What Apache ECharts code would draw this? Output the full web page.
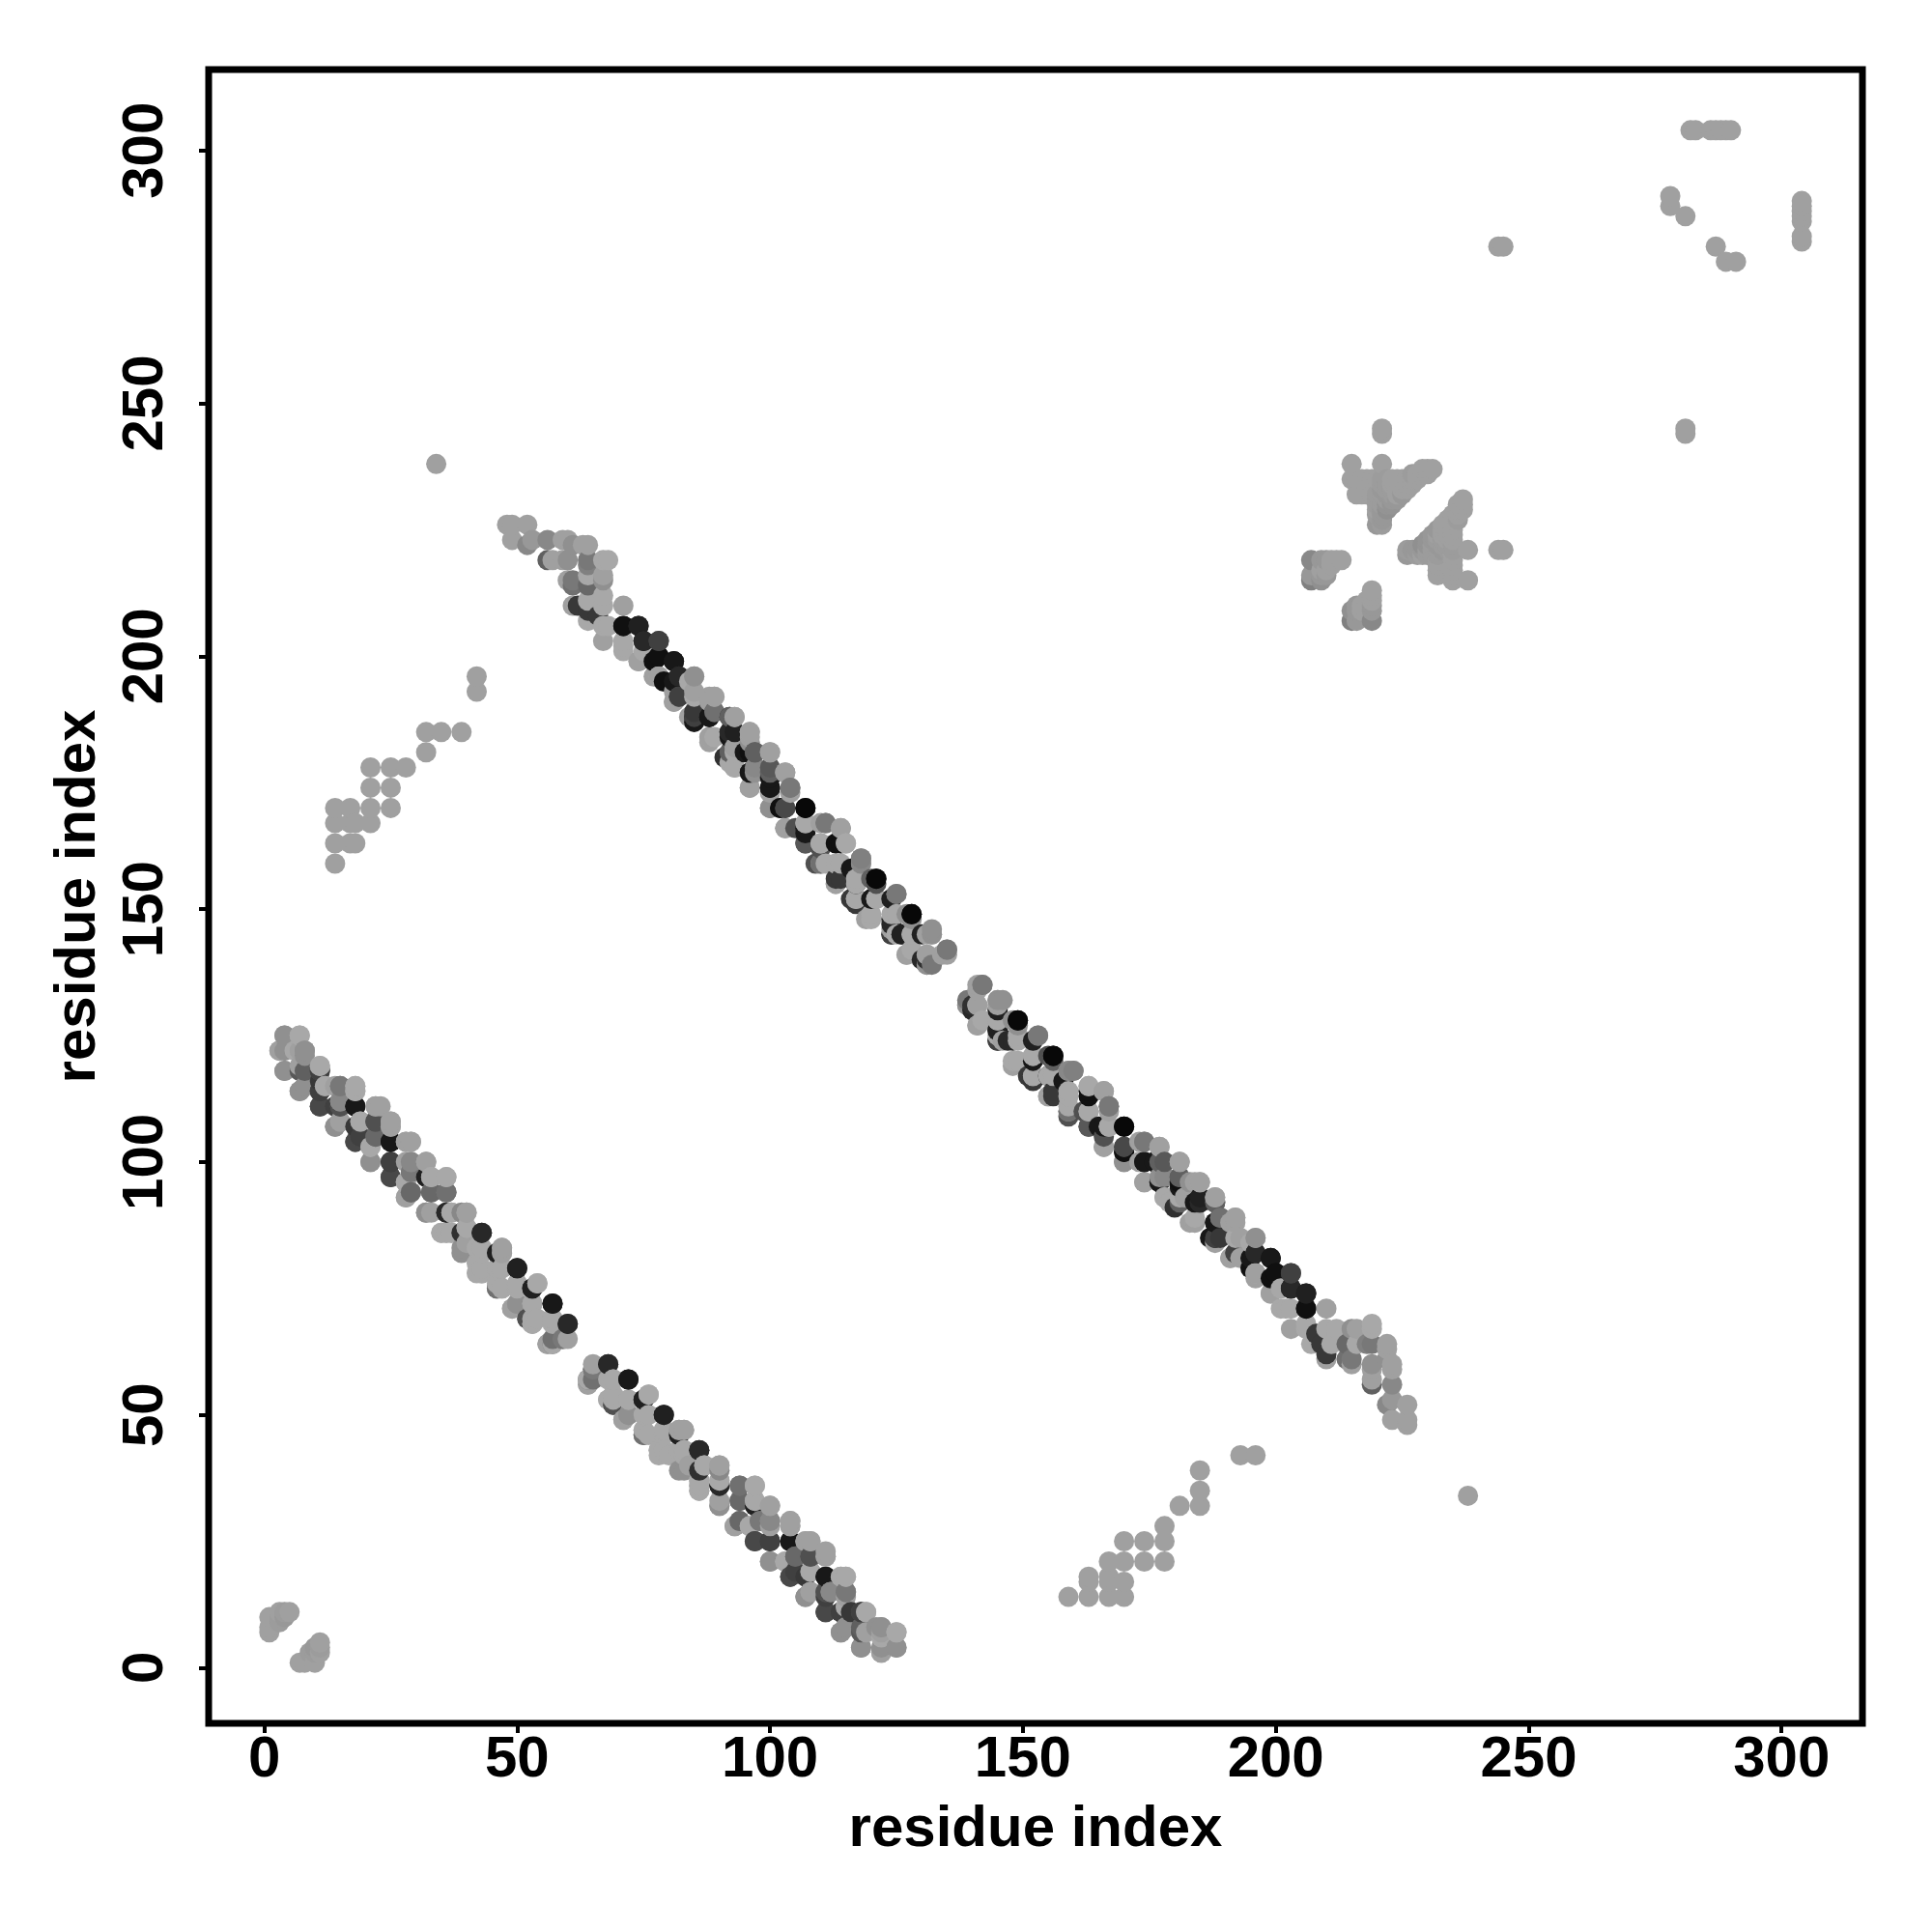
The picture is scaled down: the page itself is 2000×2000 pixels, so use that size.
<!DOCTYPE html>
<html><head><meta charset="utf-8">
<style>html,body{margin:0;padding:0;background:#fff}#c{width:2000px;height:2000px}</style>
<script src="https://cdn.jsdelivr.net/npm/echarts@6/dist/echarts.min.js"></script>
</head><body><div id="c"></div>
<script>
// Each contact: [i, j, grey level]. The map is symmetric, so (j, i) is drawn too.
const bandLowerMirrorSide = [
[65,59,0x78],[68,60,0x38],[64,57,0x70],[64,56,0xa0],[69,57,0xa8],[72,57,0x18],[68,53,0xa8],[72,53,0xa8],[76,54,0xa8],[75,53,0x20],[69,52,0x50],[71,49,0xa0],[72,50,0x90],[75,50,0xa8],[79,50,0x28],[75,47,0xa8],[75,46,0x70],
[78,43,0xa8],[79,47,0xa8],[82,47,0xa0],[83,47,0xa0],[79,43,0xa8],[83,43,0xa8],[82,43,0xa8],[86,43,0x30],[82,39,0x90],[87,40,0xa8],[90,40,0xa0],[86,35,0xa8],[86,36,0xa8],[86,37,0xa8],[90,37,0xa8],[90,36,0x28],[94,36,0x70],[97,36,0xa8],
[94,33,0x70],[97,33,0xa8],[90,32,0x90],[93,28,0xa0],[94,29,0x78],[100,32,0xa0],[96,28,0xa8],[98,29,0x70],[100,29,0x90],[97,25,0x48],[100,25,0x38],[104,29,0xa0],[104,28,0xa0],[104,25,0x18],[108,25,0xa0],[107,25,0xa0],
[100,21,0x90],[103,21,0xa8],[105,22,0x68],[108,22,0x50],[111,22,0xa0],[104,18,0x48],[108,19,0x90],[111,18,0x18],[115,18,0xa8],[114,18,0xa8],[108,15,0xa0],[107,14,0x90],[111,15,0x50],[112,15,0x90],[115,15,0x78],
[111,11,0x48],[115,12,0xa8],[114,11,0x40],[119,11,0xa0],[118,11,0x50],[114,7,0x90],[115,8,0x90],[122,8,0x90],[121,8,0x90],[119,7,0xa0],[125,7,0xa8],[125,4,0x90],[122,3,0xa0],[118,4,0x90]
];
const bandLower = [
[3,122,0xa0],[4,125,0x90],[7,125,0xa8],[4,122,0x90],[6,122,0xa8],[7,122,0xa0],[8,122,0x90],[4,118,0x90],[7,118,0x58],[8,118,0x60],
[7,114,0x90],[8,115,0x90],[11,119,0xa8],[11,118,0x40],[11,116,0x38],[11,114,0x40],[12,115,0xa8],[14,115,0xa0],[15,115,0x78],[18,115,0xa8],[18,114,0xa8],
[11,111,0x48],[14,111,0x40],[15,111,0x50],[15,112,0x88],[18,111,0x18],[22,111,0xa0],[23,111,0xa0],[14,107,0x90],[15,108,0xa0],[18,107,0x38],[19,108,0xa8],
[22,108,0x50],[22,105,0x68],[25,108,0xa0],[25,107,0xa0],[18,104,0x48],[19,105,0x40],[21,103,0xa8],[21,100,0x90],[25,104,0x18],[25,100,0x40],[25,97,0x48],
[28,104,0xa0],[29,104,0xa0],[29,100,0x88],[28,100,0xa0],[28,96,0xa8],[29,98,0x78],[29,94,0x68],[28,93,0xa0],[32,100,0xa0],[32,97,0x20],[33,97,0xa8],[36,97,0xa8],
[33,94,0x68],[36,94,0x70],[32,90,0x90],[33,90,0xa0],[36,90,0x28],[37,90,0xa8],[39,90,0x88],[40,90,0xa0],[40,87,0xa8],[39,86,0x30],[43,86,0x28],[35,86,0xa8],[36,86,0xa8],[37,86,0xa8],
[39,83,0x90],[40,84,0xa0],[42,83,0xa8],[43,83,0xa8],[42,78,0xa8],[43,78,0xa8],[42,80,0xa8],[47,83,0xa0],[47,82,0xa0],[46,82,0x20],[46,79,0xa8],[47,79,0xa8],[50,79,0x20],
[46,75,0x70],[46,76,0xa8],[47,75,0xa8],[50,76,0xa8],[50,72,0x90],[49,71,0xa0],[53,75,0x20],[54,76,0xa8],[53,72,0xa8],[52,69,0x50],[53,69,0xa8],[57,72,0x18],[54,69,0xa8],[57,69,0xa8],[57,68,0xa8],
[60,68,0x28],[53,68,0xa8],[60,65,0xa0],[56,64,0xa0],[57,64,0xa8],[59,65,0x78],[57,65,0x70]
];
const bandUpperMirrorSide = [
[142,135,0x80],[141,135,0xa0],[146,132,0x90],[145,132,0xa0],[140,131,0x30],[139,131,0x90],[141,131,0xa8],[141,127,0xa8],[145,128,0xa8],[145,126,0x30],[149,128,0x08],[149,127,0x90],
[145,124,0x38],[146,124,0xa0],[149,124,0xa8],[147,124,0x28],[153,125,0x88],[152,124,0xa0],[149,120,0xa8],[152,121,0xa8],[152,117,0xa8],[152,116,0x38],[156,121,0x00],[156,120,0x60],[156,117,0xa8],[155,117,0x10],
[160,118,0x88],[159,118,0xa0],[156,113,0x38],[155,113,0xa0],[159,113,0xa8],[159,110,0xa0],[159,109,0x50],[163,115,0xa8],[166,114,0xa0],[163,113,0x10],[167,111,0x78],[163,110,0xa8],[162,110,0x50],
[163,107,0x50],[167,107,0xa8],[166,107,0x18],[166,103,0xa0],[166,105,0x50],[170,107,0x00],[170,103,0x48],[170,102,0x20],[170,100,0x80],[174,104,0x80],[173,104,0xa0],[177,103,0xa0],
[174,100,0x10],[173,100,0xa0],[178,100,0x58],[176,100,0x18],[181,100,0xa0],[174,96,0xa0],[178,97,0x88],[177,96,0x50],[181,97,0x60],[181,95,0x18],[185,96,0xa8],[184,96,0xa0],
[178,93,0xa8],[179,92,0xa8],[180,91,0x30],[182,93,0xa0],[185,92,0x30],[188,93,0xa0],[184,92,0x18],[184,88,0xa8],[183,88,0xa0],[189,89,0x50],[188,92,0x28],[188,88,0x10],[192,89,0xa0],[191,88,0xa0],
[189,85,0x38],[188,85,0x10],[193,85,0xa0],[196,85,0xa0],[192,82,0x58],[191,81,0xa8],[193,81,0xa0],[196,82,0x28],[199,81,0x18],[196,78,0xa8],[195,79,0x10],[200,78,0x10],[203,78,0x48],[199,74,0xa0],[203,75,0x10],[206,74,0x20],[203,71,0xa8],[206,71,0x10]
];
const bandUpper = [
[48,226,0xa0],[49,226,0xa0],[49,223,0xa0],[52,226,0xa0],[52,222,0x88],[53,223,0x98],[56,223,0x88],[56,219,0x60],[57,219,0xa0],[59,223,0xa0],[60,223,0xa0],[59,219,0xa0],[60,219,0x90],
[61,222,0x90],[63,222,0xa0],[64,222,0xa0],[64,219,0x78],[64,218,0x80],[67,219,0xa8],[68,219,0xa8],[64,216,0xa8],[67,216,0xa0],[67,215,0x90],[64,214,0x68],[60,215,0xa0],[61,215,0x78],[61,214,0x70],
[61,210,0xa0],[62,210,0x38],[64,209,0x38],[64,211,0xa8],[67,212,0xa8],[67,210,0xa8],[64,207,0xa8],[67,206,0xa8],[68,206,0xa8],[66,208,0x38],[67,203,0xa0],[71,210,0xa0],[71,206,0x10],[71,202,0xa8],[71,201,0xa8],
[74,206,0x20],[75,203,0x28],[75,201,0xa8],[74,199,0xa0],[78,203,0x40],[78,200,0x10],[77,199,0x10],[81,199,0x18],[78,196,0xa0],[77,196,0xa0],[82,196,0x28],[81,195,0x18],[85,196,0x90],[84,195,0xa8],
[82,192,0x40],[81,191,0xa0],[85,192,0xa8],[89,192,0xa0],[88,192,0xa0],[89,189,0x70],[85,188,0x40],[85,187,0x18],[84,188,0xa0],[88,188,0x18],[93,188,0xa0],[92,188,0x60],[93,185,0x20],[96,185,0xa0],[92,185,0x28],
[89,184,0xa8],[88,184,0xa0],[96,183,0x90],[100,181,0xa0],[97,181,0x60],[96,181,0x10],[93,181,0xa8],[92,181,0x60],[93,178,0xa8],[100,177,0x60],[103,177,0xa0],[97,177,0x90],[96,177,0x18],[100,174,0x18],[104,174,0x78],[96,174,0xa0],
[100,170,0x90],[103,170,0x48],[107,170,0x08],[102,170,0x10],[103,166,0xa0],[107,167,0xa8],[107,165,0x18],[111,167,0x78],[110,167,0xa0],[114,166,0xa0],[107,163,0x58],[110,163,0xa8],[115,163,0xa8],[114,163,0x10],
[110,159,0x70],[111,159,0xa8],[114,159,0xa8],[118,160,0x80],[118,159,0x88],[116,158,0x18],[114,156,0x38],[113,155,0xa0],[117,155,0xa8],[121,156,0x08],[121,155,0x50],[117,152,0xa8],[117,151,0x38],
[121,152,0xa8],[120,152,0x18],[125,153,0x78],[124,152,0x20],[120,148,0xa8],[119,148,0xa0],[125,149,0xa8],[124,148,0x28],[125,145,0xa8],[124,145,0x40],[128,149,0x08],[128,148,0x90],[128,145,0xa8],[126,145,0x20],
[132,145,0x90],[131,145,0xa0],[130,145,0x20],[127,141,0xa0],[128,142,0xa8],[131,141,0xa0],[135,142,0x78],[134,141,0xa0],[130,140,0x28],[132,139,0x78],[131,139,0x90]
];
const clusterNearOrigin = [
[1,7,0xa0],[1,8,0xa0],[1,10,0xa0],[3,9,0x9c],[3,10,0x9c],[3,11,0xa0],[4,10,0x98],[4,11,0x9c],[5,11,0xa0]
];
const clusterSmall = [
[207,219,0x88],[209,219,0x98],[210,219,0x98],[211,219,0xa0],[212,219,0xa0],[213,219,0xa0],[207,216,0x98],[207,215,0x80],[209,215,0x90],[209,216,0x98],[209,217,0xa0],[210,216,0x98],[210,217,0xa0],[211,218,0xa0]
];
const clusterLarge = [
[215,238,0xa0],[221,238,0xa0],[229,237,0xa0],[230,237,0xa0],[231,237,0xa0],[227,236,0x9c],[228,236,0xa0],[229,236,0xa0],[230,236,0xa0],
[215,235,0xa0],[216,235,0xa0],[217,235,0xa0],[218,235,0xa0],[219,235,0xa0],[220,235,0xa0],[221,235,0x9c],[222,235,0x9c],[223,235,0xa0],[224,235,0xa0],[225,235,0xa0],[226,235,0xa0],[227,235,0xa0],[228,235,0xa0],
[221,234,0x9c],[222,234,0x9c],[223,234,0xa0],[224,234,0xa0],[225,234,0xa0],[226,234,0xa0],[227,234,0xa0],[221,233,0x98],[222,233,0x9c],[223,233,0x9c],[224,233,0xa0],[225,233,0xa0],[226,233,0xa0],
[216,232,0xa0],[217,232,0xa0],[218,232,0xa0],[219,232,0xa0],[220,232,0x9c],[221,232,0x9c],[222,232,0x98],[223,232,0x9c],[224,232,0xa0],[225,232,0x98],
[220,231,0x9c],[221,231,0x9c],[222,231,0x9c],[223,231,0x98],[224,231,0x98],[220,230,0x9c],[221,230,0x9c],[222,230,0x94],[223,230,0x94],[220,229,0xa0],[221,229,0x98],[222,229,0x90],
[220,228,0x9c],[221,228,0x98],[221,227,0x98],[220,226,0x98],[221,226,0x9c],[221,244,0xa0],[221,245,0xa0]
];
const sparseContacts = [
[14,159,0xa0],[14,163,0xa0],[17,163,0xa0],[18,163,0xa0],[14,167,0xa0],[17,167,0xa0],[18,167,0xa0],[21,167,0xa0],[14,170,0xa0],[17,170,0xa0],[21,170,0xa0],[25,170,0xa0],
[21,174,0xa0],[25,174,0xa0],[21,178,0xa0],[25,178,0xa0],[28,178,0xa0],[32,181,0xa0],[32,185,0xa0],[35,185,0xa0],[39,185,0xa0],[42,193,0xa0],[42,196,0xa0],[34,238,0xa0],
[244,281,0xa0],[245,281,0xa0],[278,289,0xa0],[278,291,0xa0],[281,287,0xa0],[282,304,0xa0],[283,304,0xa0],[286,304,0xa0],[287,304,0xa0],[288,304,0xa0],[289,304,0xa0],[290,304,0xa0]
];
const tickValues = [0,50,100,150,200,250,300];
const axisTitle = 'residue index';

const listedContacts = [].concat(bandLowerMirrorSide, bandLower, bandUpperMirrorSide, bandUpper, clusterNearOrigin, clusterSmall, clusterLarge, sparseContacts);
const contacts = [];
listedContacts.forEach(function (c) { contacts.push([c[0], c[1], c[2]]); contacts.push([c[1], c[0], c[2]]); });
contacts.sort(function (a, b) { return a[0] - b[0] || a[1] - b[1]; });

const font = '"Liberation Sans", Arial, sans-serif';
function axis(extra) {
  return Object.assign({
    type: 'value', name: axisTitle, nameLocation: 'middle',
    nameTextStyle: { fontFamily: font, fontWeight: 'bold', fontSize: 60, color: '#000' },
    axisLine: { show: false, onZero: false },
    axisTick: { show: true, inside: false, length: 10, lineStyle: { color: '#000', width: 4 }, customValues: tickValues },
    splitLine: { show: false }
  }, extra);
}
const chart = echarts.init(document.getElementById('c'), null, { renderer: 'canvas' });
chart.setOption({
  animation: false,
  backgroundColor: '#fff',
  grid: { left: 216, right: 72, top: 72, bottom: 216, show: true, borderColor: '#000', borderWidth: 7, backgroundColor: 'transparent' },
  xAxis: axis({ min: -11, max: 316, nameGap: 80,
    axisLabel: { show: true, customValues: tickValues, fontFamily: font, fontWeight: 'bold', fontSize: 60, color: '#000', margin: 8 } }),
  yAxis: axis({ min: -11, max: 316, nameGap: 105,
    axisLabel: { show: true, customValues: tickValues, rotate: 90, fontFamily: font, fontWeight: 'bold', fontSize: 60, color: '#000', margin: 35 } }),
  series: [{
    type: 'scatter', symbol: 'circle', symbolSize: 21, silent: true, clip: false,
    data: contacts.map(function (c) {
      return { value: [c[0], c[1]], itemStyle: { color: 'rgb(' + c[2] + ',' + c[2] + ',' + c[2] + ')', opacity: 1 } };
    })
  }]
});
</script></body></html>
